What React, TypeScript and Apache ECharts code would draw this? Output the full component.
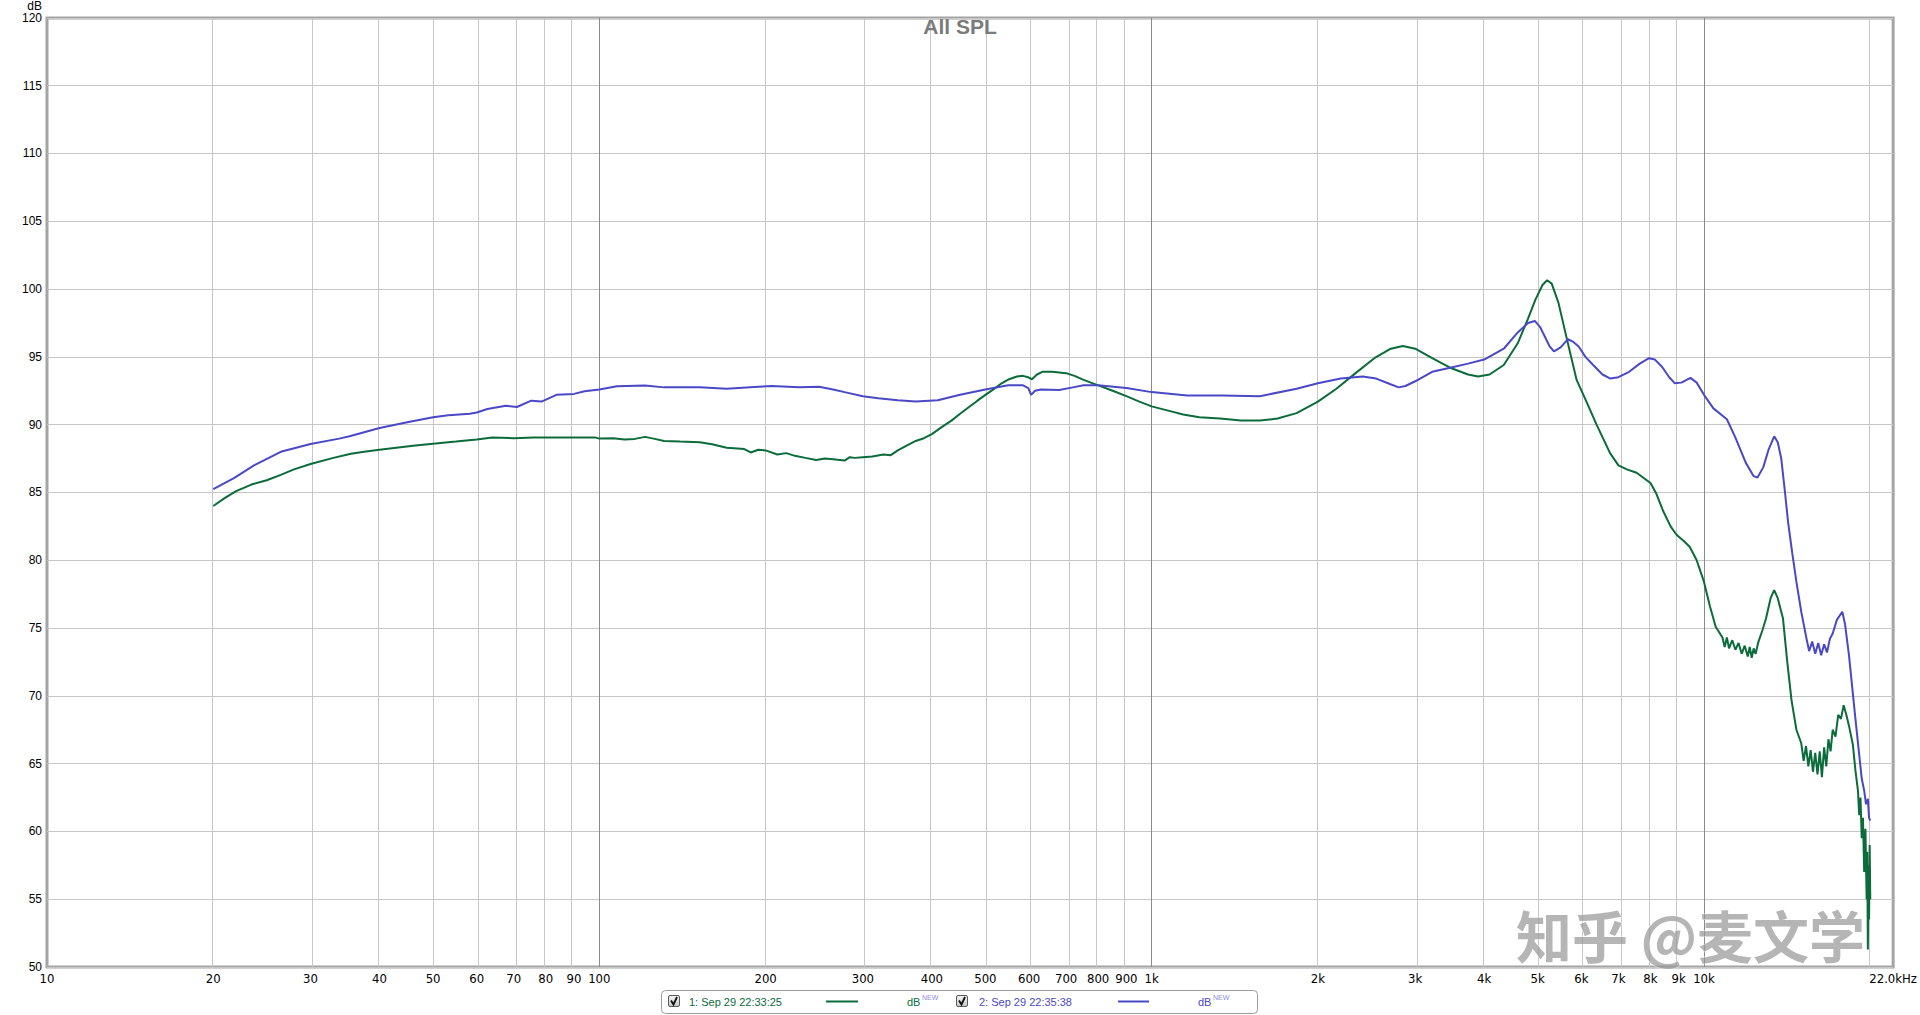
import React, { useEffect, useRef } from "react";
import * as echarts from "echarts";

// ---- Data ----
const titleText = "All SPL";
const seriesNames = ["1: Sep 29 22:33:25", "2: Sep 29 22:35:38"];
const seriesColors = ["#0b6b3a", "#4a48c6"];

const freq1 = [20,21,22,23.5,25,26.5,28,30,33,35.5,37.5,40,46,50,55,60,64,70,76,85,90,98,100,106,111,116,121,126,131,140,152,160,170,178,183,188,194,200,210,218,226,236,247,256,265,278,284,290,300,312,327,337,347,360,374,387,400,416,434,450,467,483,500,517,535,552,570,585,597,607,620,634,660,680,700,725,753,800,850,900,950,1000,1080,1140,1220,1330,1450,1570,1690,1830,2000,2160,2340,2530,2710,2850,3000,3220,3470,3740,3900,4090,4340,4600,4800,4950,5100,5200,5300,5450,5640,5880,6140,6390,6760,7000,7250,7550,8000,8200,8430,8700,8910,9200,9420,9700,10000,10250,10500,10800,10900,11000,11100,11250,11400,11550,11700,11850,12000,12100,12200,12300,12400,12550,12750,12950,13200,13400,13600,13900,14150,14400,14700,15000,15150,15300,15450,15600,15750,15900,16050,16200,16350,16500,16650,16800,16950,17100,17300,17500,17700,17900,18100,18300,18600,18800,19000,19100,19200,19300,19400,19500,19600,19700,19750,19800,19850,19900,19950,20000];
const db1 = [84.0,84.6,85.1,85.6,85.9,86.3,86.7,87.1,87.55,87.85,88.0,88.15,88.45,88.6,88.75,88.9,89.05,89.0,89.06,89.05,89.06,89.06,88.97,89.0,88.9,88.95,89.1,88.95,88.8,88.75,88.7,88.55,88.3,88.25,88.2,87.95,88.15,88.1,87.8,87.9,87.7,87.55,87.4,87.5,87.45,87.35,87.6,87.55,87.6,87.65,87.8,87.75,88.1,88.45,88.8,89.0,89.3,89.8,90.3,90.8,91.3,91.75,92.2,92.6,93.05,93.35,93.55,93.6,93.5,93.35,93.7,93.9,93.9,93.85,93.8,93.6,93.3,92.9,92.5,92.1,91.7,91.35,91.0,90.75,90.55,90.45,90.3,90.3,90.45,90.85,91.7,92.65,93.8,94.9,95.6,95.8,95.6,94.9,94.2,93.7,93.55,93.7,94.4,96.0,97.8,99.2,100.3,100.65,100.4,99.0,96.4,93.3,91.6,90.0,87.9,87.0,86.7,86.45,85.7,84.9,83.65,82.5,81.9,81.4,81.0,80.0,78.4,76.6,75.1,74.3,73.6,74.3,73.5,74.1,73.4,73.9,73.1,73.7,72.9,73.6,72.8,73.5,73.1,74.0,74.8,75.7,77.2,77.8,77.2,75.7,72.5,69.7,67.5,66.5,65.2,66.3,64.8,66.0,64.4,65.8,64.2,65.9,64.0,66.2,64.8,66.8,65.9,67.5,67.0,68.6,68.3,69.3,68.6,67.8,66.4,64.5,63.0,61.2,62.5,59.5,61.0,57.0,60.2,55.0,58.5,51.3,57.5,53.5,59.0,55.0];

const freq2 = [20,21.8,23.7,26.5,30,33.8,35.3,40,44.9,50,53.3,58.3,60,62.7,67.7,70.9,75.3,78.6,83.6,90,94,100,107.6,121,131,152,170,194,205,230,250,265,278,300,320,347,374,410,450,500,550,585,598,605,615,630,680,720,753,800,900,1000,1160,1340,1570,1830,2000,2200,2410,2550,2700,2800,2880,3000,3220,3470,3740,4000,4340,4600,4800,4940,5050,5120,5250,5350,5500,5670,5800,5930,6100,6300,6550,6770,7000,7320,7650,7950,8150,8400,8650,8850,9100,9450,9700,10000,10400,11000,11400,11900,12300,12500,12800,13100,13400,13600,13800,14000,14200,14450,14700,15000,15300,15500,15700,15900,16100,16300,16500,16700,16900,17100,17400,17800,18000,18300,18800,19300,19500,19650,19800,19900,20000];
const db2 = [85.25,86.06,87.0,88.0,88.57,88.97,89.14,89.75,90.17,90.54,90.7,90.8,90.9,91.16,91.4,91.3,91.77,91.7,92.2,92.27,92.46,92.6,92.83,92.88,92.75,92.76,92.65,92.8,92.85,92.75,92.8,92.6,92.4,92.1,91.95,91.8,91.7,91.8,92.2,92.6,92.9,92.9,92.7,92.2,92.5,92.6,92.55,92.75,92.9,92.9,92.7,92.4,92.15,92.15,92.1,92.65,93.06,93.4,93.55,93.4,93.0,92.75,92.85,93.2,93.9,94.2,94.5,94.8,95.6,96.8,97.5,97.65,97.2,96.7,95.8,95.4,95.7,96.3,96.1,95.76,95.0,94.4,93.7,93.4,93.5,93.9,94.5,94.9,94.8,94.25,93.5,93.06,93.1,93.45,93.1,92.2,91.2,90.4,89.04,87.2,86.2,86.1,86.85,88.2,89.14,88.7,87.5,85.2,82.8,80.5,78.4,76.2,74.4,73.3,74.0,73.1,73.9,73.0,73.8,73.2,74.2,74.6,75.6,76.2,75.3,73.0,68.3,63.9,63.0,62.0,62.4,61.0,60.8];

const xMinFreq = 10;
const xMaxFreq = 22000;
const xTickFreqs = [10,20,30,40,50,60,70,80,90,100,200,300,400,500,600,700,800,900,1000,2000,3000,4000,5000,6000,7000,8000,9000,10000,22000];
const xTickLabels = ["10","20","30","40","50","60","70","80","90","100","200","300","400","500","600","700","800","900","1k","2k","3k","4k","5k","6k","7k","8k","9k","10k","22.0kHz"];
const minorGridFreqs = [20,30,40,50,60,70,80,90,200,300,400,500,600,700,800,900,2000,3000,4000,5000,6000,7000,8000,9000,20000];
const majorGridFreqs = [100,1000,10000];
const yMin = 50;
const yMax = 120;
const yStep = 5;
const watermarkText = "知乎 @麦文学";

const GRID = { left: 47, top: 15, right: 1897, bottom: 967 };

export default function App() {
  const ref = useRef<HTMLDivElement>(null);

  useEffect(() => {
    if (!ref.current) return;
    const chart = echarts.init(ref.current, null, { renderer: "svg" });
    const lg = Math.log10;
    const tickLogs = xTickFreqs.map((f) => lg(f));
    const toData = (fs: number[], ds: number[]) => fs.map((f, i) => [lg(f), ds[i]]);

    const gridLines = [
      ...minorGridFreqs.map((f) => ({ xAxis: lg(f), lineStyle: { color: "#c6c6c6", width: 1, type: "solid" } })),
      ...majorGridFreqs.map((f) => ({ xAxis: lg(f), lineStyle: { color: "#8a8a8a", width: 1, type: "solid" } })),
    ];

    const labelFont = "'Liberation Sans Narrow', 'DejaVu Sans Condensed', Arial, sans-serif";
    const legendFont = "'Liberation Sans', Arial, sans-serif";

    const legendGraphic: any[] = [
      {
        type: "rect",
        shape: { x: 661.5, y: 990.5, width: 596, height: 23, r: 4 },
        style: { fill: "#ffffff", stroke: "#9a9a9a", lineWidth: 1 },
        z: 10,
      },
    ];
    const legendX = [
      { box: 668, text: 689, l1: 826, l2: 858, db: 907 },
      { box: 956, text: 979, l1: 1118, l2: 1149, db: 1198 },
    ];
    legendX.forEach((p, i) => {
      const c = seriesColors[i];
      legendGraphic.push(
        {
          type: "rect",
          shape: { x: p.box + 0.5, y: 995.5, width: 11, height: 11, r: 1.5 },
          style: {
            fill: new echarts.graphic.LinearGradient(0, 0, 0, 1, [
              { offset: 0, color: "#f4f4f4" },
              { offset: 1, color: "#c8c8c8" },
            ]),
            stroke: "#5a5a5a",
            lineWidth: 1,
          },
          z: 11,
        },
        {
          type: "polyline",
          shape: { points: [[p.box + 3, 1000.5], [p.box + 5.5, 1004.5], [p.box + 9, 997]] },
          style: { stroke: "#111", lineWidth: 1.8, fill: "none" },
          z: 12,
        },
        {
          type: "text",
          x: p.text,
          y: 1001.5,
          style: { text: seriesNames[i], fill: c, font: `11px ${legendFont}`, verticalAlign: "middle", align: "left" },
          z: 11,
        },
        {
          type: "line",
          shape: { x1: p.l1, y1: 1001.5, x2: p.l2, y2: 1001.5 },
          style: { stroke: c, lineWidth: 2 },
          z: 11,
        },
        {
          type: "text",
          x: p.db,
          y: 1002,
          style: { text: "dB", fill: c, font: `11px ${legendFont}`, verticalAlign: "middle", align: "left" },
          z: 11,
        },
        {
          type: "text",
          x: p.db + 15,
          y: 997,
          style: { text: "NEW", fill: "#8c8cd6", font: `7px ${legendFont}`, verticalAlign: "middle", align: "left" },
          z: 11,
        }
      );
    });

    const option: any = {
      animation: false,
      backgroundColor: "#ffffff",
      title: {
        text: titleText,
        left: "center",
        top: 11,
        textStyle: { fontSize: 21, fontWeight: "bold", color: "#7a7a7a", fontFamily: legendFont },
      },
      grid: {
        left: GRID.left,
        top: GRID.top,
        width: GRID.right - GRID.left,
        height: GRID.bottom - GRID.top,
        show: true,
        borderColor: "#a4a4a4",
        borderWidth: 3,
        backgroundColor: "transparent",
        containLabel: false,
      },
      xAxis: {
        type: "value",
        min: lg(xMinFreq),
        max: lg(xMaxFreq),
        axisLine: { show: false },
        axisTick: { show: false },
        splitLine: { show: false },
        axisLabel: {
          customValues: tickLogs,
          showMinLabel: true,
          showMaxLabel: true,
          margin: 5,
          color: "#000",
          fontSize: 13,
          fontFamily: labelFont,
          formatter: (v: number) => {
            let best = 0;
            let bd = Infinity;
            tickLogs.forEach((t, i) => {
              const d = Math.abs(t - v);
              if (d < bd) { bd = d; best = i; }
            });
            return bd < 1e-3 ? xTickLabels[best] : "";
          },
        },
      },
      yAxis: {
        type: "value",
        min: yMin,
        max: yMax,
        interval: yStep,
        name: "dB",
        nameLocation: "end",
        nameGap: 1,
        nameTextStyle: { color: "#000", fontSize: 12, fontFamily: legendFont, align: "right", verticalAlign: "bottom", padding: [0, 5, 0, 0] },
        axisLine: { show: false },
        axisTick: { show: false },
        splitLine: { show: true, lineStyle: { color: "#c6c6c6", width: 1 } },
        axisLabel: { color: "#000", fontSize: 12, margin: 5, fontFamily: legendFont },
      },
      graphic: [
        ...legendGraphic,
        {
          type: "text",
          x: 1516,
          y: 959,
          silent: true,
          style: {
            text: watermarkText,
            font: `bold 56px 'Noto Sans CJK SC', sans-serif`,
            lineHeight: 52,
            fill: "rgba(150,150,150,0.7)",
            stroke: "rgba(255,255,255,0.7)",
            lineWidth: 1,
            verticalAlign: "bottom",
            align: "left",
          },
          z: 20,
        },
      ],
      series: [
        {
          name: "grid",
          type: "line",
          data: [],
          silent: true,
          z: 1,
          markLine: {
            silent: true,
            z: 1,
            symbol: ["none", "none"],
            label: { show: false },
            emphasis: { disabled: true },
            data: gridLines,
          },
        },
        {
          name: seriesNames[0],
          type: "line",
          data: toData(freq1, db1),
          showSymbol: false,
          symbol: "none",
          z: 3,
          lineStyle: { color: seriesColors[0], width: 2 },
          itemStyle: { color: seriesColors[0] },
        },
        {
          name: seriesNames[1],
          type: "line",
          data: toData(freq2, db2),
          showSymbol: false,
          symbol: "none",
          z: 4,
          lineStyle: { color: seriesColors[1], width: 2 },
          itemStyle: { color: seriesColors[1] },
        },
      ],
    };

    chart.setOption(option);
    return () => chart.dispose();
  }, []);

  return (
    <div
      ref={ref}
      style={{ position: "absolute", left: 0, top: 0, width: "1920px", height: "1015px", background: "#fff" }}
    />
  );
}
